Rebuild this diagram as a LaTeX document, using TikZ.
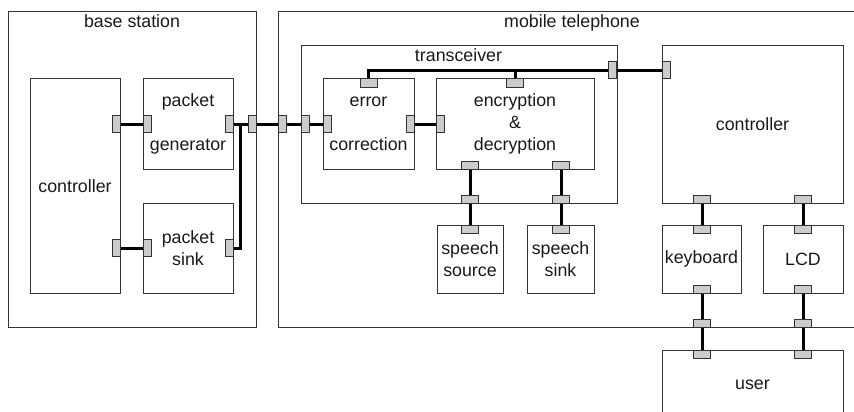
\documentclass[tikz,border=0pt]{standalone}
\usepackage{fontspec}
\setmainfont{Liberation Sans}
\begin{document}
\begin{tikzpicture}[x=1pt,y=-1pt,
  txt/.style={font=\fontsize{17.8}{22}\selectfont, text=black!90},
  blk/.style={draw=black!80, line width=1pt, inner sep=0pt, align=center, txt},
  vport/.style={draw=black!80, fill=black!20, line width=1pt, inner sep=0pt,
    minimum width=8pt, minimum height=17pt},
  hport/.style={draw=black!80, fill=black!20, line width=1pt, inner sep=0pt,
    minimum width=17pt, minimum height=8pt},
  wire/.style={line width=3pt, black}]
\useasboundingbox (0,0) rectangle (854,412);
\clip (0,0) rectangle (854,412);

% ---------- base station ----------
\node[blk, minimum width=248pt, minimum height=315pt] (bs) at (132,169.5) {};
\node[txt, anchor=base] (bslabel) at (132,27.5) {base station};
\node[blk, minimum width=90pt, minimum height=214pt] (bctrl) at (75,186) {controller};
\node[blk, minimum width=90pt, minimum height=90pt] (gen) at (188,124) {packet\\[22pt]generator};
\node[blk, minimum width=90pt, minimum height=90pt] (sink) at (188,248) {packet\\sink};

% ---------- mobile telephone ----------
\node[blk, minimum width=602pt, minimum height=315pt] (mt) at (579,169.5) {};
\node[txt, anchor=base] (mtlabel) at (572,27.5) {mobile telephone};
\node[blk, minimum width=316pt, minimum height=157pt] (trx) at (459,124.5) {};
\node[txt, anchor=base] (trxlabel) at (458.5,62) {transceiver};
\node[blk, minimum width=91pt, minimum height=90pt] (err) at (368.5,124) {error\\[22pt]correction};
\node[blk, minimum width=158pt, minimum height=90pt] (enc) at (515,124) {encryption\\\&\\decryption};
\node[blk, minimum width=66pt, minimum height=68pt] (ssrc) at (470,259) {speech\\source};
\node[blk, minimum width=67pt, minimum height=68pt] (ssnk) at (560.5,259) {speech\\sink};
\node[blk, minimum width=181pt, minimum height=157pt] (mctrl) at (752.5,124.5) {controller};
\node[blk, minimum width=79pt, minimum height=68pt] (kbd) at (701.5,259) {keyboard};
\node[blk, minimum width=80pt, minimum height=68pt] (lcd) at (803,259) {LCD};

% ---------- user ----------
\node[blk, minimum width=181pt, minimum height=70pt] (user) at (752.5,385) {user};

% ---------- ports ----------
\node[vport] (pc1) at (116,124) {};
\node[vport] (pc2) at (116,248) {};
\node[vport] (pg1) at (147,124) {};
\node[vport] (pg2) at (229,124) {};
\node[vport] (ps1) at (147,248) {};
\node[vport] (ps2) at (229,248) {};
\node[vport] (pb)  at (252,124) {};
\node[vport] (pm)  at (282.5,124) {};
\node[vport] (pt)  at (305,124) {};
\node[vport] (pe1) at (327.5,124) {};
\node[vport] (pe2) at (410,124) {};
\node[hport] (pe3) at (368.5,83) {};
\node[vport] (pn1) at (440,124) {};
\node[hport] (pn2) at (515,83) {};
\node[hport] (pn3) at (470,165) {};
\node[hport] (pn4) at (561,165) {};
\node[vport] (pt2) at (612.5,70.5) {};
\node[hport] (pt3) at (470,199) {};
\node[hport] (pt4) at (561,199) {};
\node[hport] (pss) at (470,229) {};
\node[hport] (psk) at (561,229) {};
\node[vport] (pmc) at (666,70.5) {};
\node[hport] (pmc2) at (702,199) {};
\node[hport] (pmc3) at (803,199) {};
\node[hport] (pk1) at (702,229) {};
\node[hport] (pk2) at (702,289) {};
\node[hport] (pl1) at (803,229) {};
\node[hport] (pl2) at (803,289) {};
\node[hport] (pm2) at (702,323) {};
\node[hport] (pm3) at (803,323) {};
\node[hport] (pu1) at (702,354) {};
\node[hport] (pu2) at (803,354) {};

\coordinate (j) at (240,124);

% ---------- wiring ----------
\draw[wire] (pc1.east) -- (pg1.west);
\draw[wire] (pc2.east) -- (ps1.west);
\draw[wire] (pg2.east) -- (pb.west);
\draw[wire] (ps2.east) -| (j);
\draw[wire] (pb.east) -- (pm.west);
\draw[wire] (pm.east) -- (pt.west);
\draw[wire] (pt.east) -- (pe1.west);
\draw[wire] (pe2.east) -- (pn1.west);
\draw[wire] (pe3.north) |- (pt2.west);
\draw[wire] (pn2.north) -- (pn2.north |- pt2.west);
\draw[wire] (pt2.east) -- (pmc.west);
\draw[wire] (pn3.south) -- (pt3.north);
\draw[wire] (pt3.south) -- (pss.north);
\draw[wire] (pn4.south) -- (pt4.north);
\draw[wire] (pt4.south) -- (psk.north);
\draw[wire] (pmc2.south) -- (pk1.north);
\draw[wire] (pmc3.south) -- (pl1.north);
\draw[wire] (pk2.south) -- (pm2.north);
\draw[wire] (pm2.south) -- (pu1.north);
\draw[wire] (pl2.south) -- (pm3.north);
\draw[wire] (pm3.south) -- (pu2.north);
\end{tikzpicture}
\end{document}
